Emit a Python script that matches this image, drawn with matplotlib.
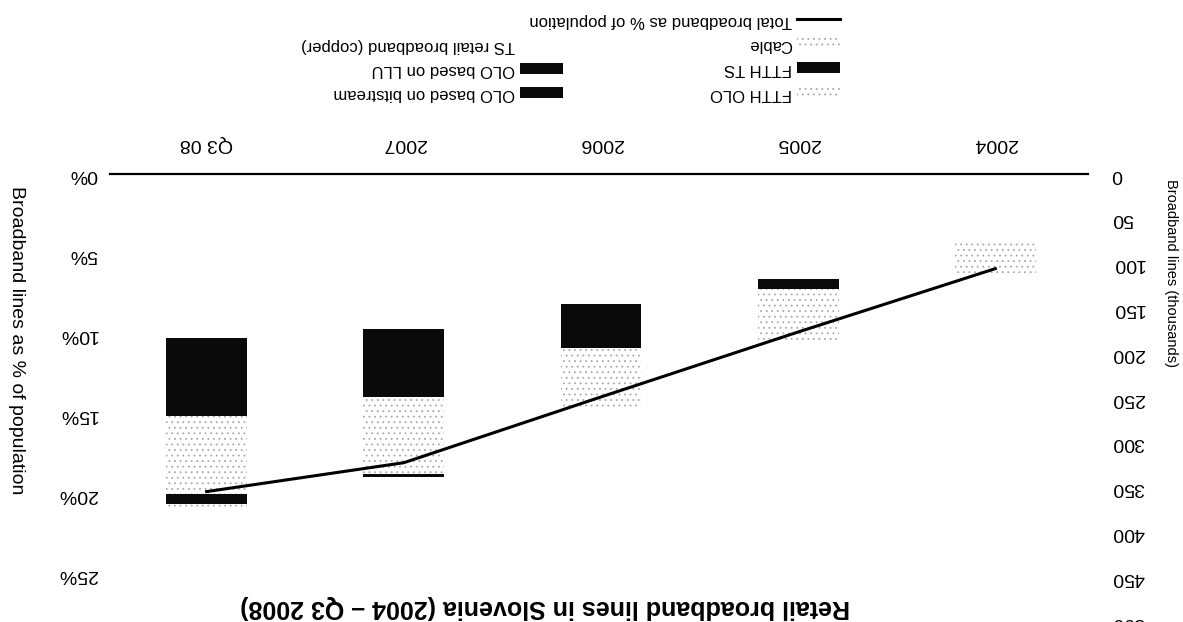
import matplotlib
matplotlib.use('Agg')
import matplotlib.pyplot as plt
from matplotlib.ticker import FuncFormatter

# data (thousands of lines)
categories = ['2004', '2005', '2006', '2007', 'Q3 08']
ts_copper = [74, 117, 145, 173, 183]
olo_llu = [0, 6, 25, 38, 45]
olo_bitstream = [0, 5, 24, 38, 42]
cable = [37, 57, 67, 86, 87]
ftth_ts = [0, 0, 0, 3, 11]
ftth_olo = [0, 0, 0, 0, 4]
total_pct = [5.9, 9.85, 13.9, 18.0, 19.8]

title = 'Retail broadband lines in Slovenia (2004 \u2013 Q3 2008)'

plt.rcParams['font.family'] = ['Liberation Sans', 'DejaVu Sans']
plt.rcParams['hatch.linewidth'] = 0.6

W, H = 1183, 622
fig = plt.figure(figsize=(W / 100, H / 100), dpi=100)
# the scanned chart is upside down, so everything is flipped
ax = fig.add_axes([110 / W, 0, 978 / W, 448 / H])

x = list(range(len(categories)))
width = 0.41
dark = '#0a0a0a'
dots = '#a8a8a8'
series = [
    (ts_copper, 'TS retail broadband (copper)', 'white', 'none', None),
    (olo_llu, 'OLO based on LLU', dark, dark, None),
    (olo_bitstream, 'OLO based on bitstream', dark, dark, None),
    (cable, 'Cable', 'white', dots, '...'),
    (ftth_ts, 'FTTH TS', dark, dark, None),
    (ftth_olo, 'FTTH OLO', 'white', dots, '...'),
]
bottom = [0] * len(x)
bars = {}
for vals, label, fc, ec, hatch in series:
    b = ax.bar(x, vals, width, bottom=bottom, color=fc, edgecolor=ec,
               hatch=hatch, linewidth=0, label=label)
    bars[label] = b
    bottom = [bb + v for bb, v in zip(bottom, vals)]

ax2 = ax.twinx()

ax.set_xlim(4.49, -0.47)
ax.set_ylim(500, 0)
ax.set_yticks(range(0, 501, 50))
ax.yaxis.tick_right()
ax.tick_params(axis='y', length=0, pad=17, labelsize=14, labelrotation=180)
ax.xaxis.tick_top()
ax.set_xticks(x, categories)
ax.tick_params(axis='x', length=0, pad=15.5, labelsize=14, labelrotation=180)
for s in ['left', 'right', 'bottom']:
    ax.spines[s].set_visible(False)
ax.spines['top'].set_linewidth(1.6)

ax.set_ylabel('Broadband lines (thousands)', fontsize=10.5, rotation=270)
ax.yaxis.set_label_position('right')
ax.yaxis.label.set(ha='center', va='center', rotation_mode='anchor')
ax.yaxis.set_label_coords(1.085, 0.78)

ax2.set_ylim(448 / 16.04, 0)
ax2.set_yticks(range(0, 26, 5))
ax2.yaxis.set_major_formatter(FuncFormatter(lambda v, p: '%d%%' % v))
ax2.yaxis.tick_left()
ax2.tick_params(axis='y', length=0, pad=9, labelsize=14, labelrotation=180)
for s in ax2.spines.values():
    s.set_visible(False)
line, = ax2.plot(x, total_pct, color='black', lw=2.2,
                 label='Total broadband as % of population')
ax2.set_ylabel('Broadband lines as % of population', fontsize=14, rotation=270)
ax2.yaxis.set_label_position('left')
ax2.yaxis.label.set(ha='center', va='center', rotation_mode='anchor')
ax2.yaxis.set_label_coords(-0.096, 0.63)

for t in ax.get_yticklabels() + ax2.get_yticklabels():
    t.set_verticalalignment('center')

fig.text(545 / W, 1 - 607 / H, title, rotation=180, ha='center', va='center',
         fontsize=18, fontweight='bold')

leg_kw = dict(frameon=False, markerfirst=False, loc='upper right', fontsize=12,
              handlelength=2.6, handleheight=0.6, handletextpad=0.3,
              labelspacing=0.55, borderpad=0, borderaxespad=0)
h1 = [line, bars['Cable'], bars['FTTH TS'], bars['FTTH OLO']]
leg1 = fig.legend(handles=h1, labels=[h.get_label() for h in h1],
                  bbox_to_anchor=(840 / W, 1 - 13 / H), **leg_kw)
h2 = [bars['TS retail broadband (copper)'], bars['OLO based on LLU'],
      bars['OLO based on bitstream']]
leg2 = fig.legend(handles=h2, labels=[h.get_label() for h in h2],
                  bbox_to_anchor=(563 / W, 1 - 38 / H), **leg_kw)
for leg in (leg1, leg2):
    for t in leg.get_texts():
        t.set_rotation(180)

fig.savefig('out.png', dpi=100)
